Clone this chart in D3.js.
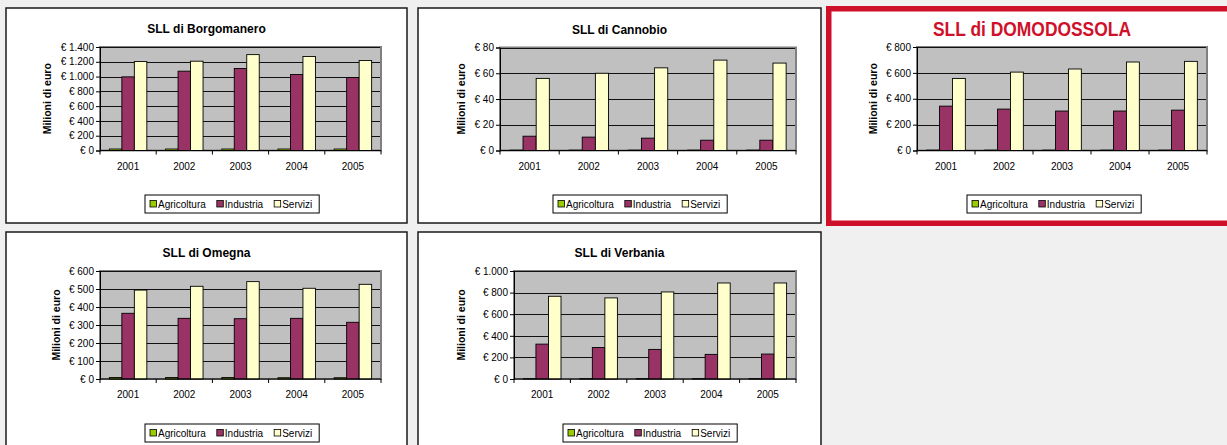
<!DOCTYPE html>
<html>
<head>
<meta charset="utf-8">
<script src="https://d3js.org/d3.v7.min.js"></script>
<style>
  body { margin: 0; background: #eff0ef; }
  svg { display: block; font-family: Arial, "Liberation Sans", sans-serif; }
</style>
</head>
<body>
<div id="chart"></div>
<script>
// dati (milioni di euro)
var years = ["2001", "2002", "2003", "2004", "2005"];
var series = ["Agricoltura", "Industria", "Servizi"];
var colors = ["#99cc00", "#993366", "#ffffcc"];

// [Agricoltura, Industria, Servizi]
var borgomanero = [[20, 20, 20, 20, 20], [996, 1073, 1109, 1028, 988], [1203, 1208, 1297, 1271, 1217]];
var cannobio = [[0.3, 0.3, 0.3, 0.3, 0.3], [11.1, 10.4, 9.6, 8.0, 8.0], [56, 60, 64.2, 70.2, 67.9]];
var domodossola = [[3, 3, 3, 3, 3], [343, 320, 305, 305, 312], [557, 606, 630, 684, 689]];
var omegna = [[8, 8, 8, 7, 7], [365, 337, 335, 337, 315], [494, 515, 541, 504, 526]];
var verbania = [[3, 3, 3, 3, 3], [323, 292, 274, 228, 231], [766, 751, 806, 889, 889]];

// tick dell'asse y
var ticksBorgomanero = [0, 200, 400, 600, 800, 1000, 1200, 1400];
var ticksCannobio = [0, 20, 40, 60, 80];
var ticksDomodossola = [0, 200, 400, 600, 800];
var ticksOmegna = [0, 100, 200, 300, 400, 500, 600];
var ticksVerbania = [0, 200, 400, 600, 800, 1000];

var W = 1227, H = 445;
var svg = d3.select("#chart").append("svg").attr("width", W).attr("height", H);
svg.append("rect").attr("width", W).attr("height", H).attr("fill", "#eff0ef");

var it = d3.formatLocale({decimal: ",", thousands: ".", grouping: [3], currency: ["€ ", ""]});
var euro = it.format("$,.0f");

var panels = [
  {title: "SLL di Borgomanero", data: borgomanero, ticks: ticksBorgomanero,
   box: [6, 8, 401, 215], plot: [100, 47, 381, 150.5], legend: [145, 195]},
  {title: "SLL di Cannobio", data: cannobio, ticks: ticksCannobio,
   box: [418, 8, 403, 215], plot: [500, 47.5, 796, 150.5], legend: [553, 195]},
  {title: "SLL di DOMODOSSOLA", data: domodossola, ticks: ticksDomodossola, highlight: true,
   box: [828.75, 8.75, 420, 214.5], plot: [917, 47, 1207, 150.5], legend: [967, 195]},
  {title: "SLL di Omegna", data: omegna, ticks: ticksOmegna,
   box: [6, 232, 401, 240], plot: [100, 271, 381, 379], legend: [145, 424]},
  {title: "SLL di Verbania", data: verbania, ticks: ticksVerbania,
   box: [418, 232, 403, 240], plot: [514, 271, 796, 379], legend: [563, 424]}
];

panels.forEach(function(p) {
  var g = svg.append("g");

  // cornice del pannello
  g.append("rect")
    .attr("x", p.box[0]).attr("y", p.box[1])
    .attr("width", p.box[2]).attr("height", p.box[3])
    .attr("fill", "#fff")
    .attr("stroke", p.highlight ? "#d0102a" : "#1a1a1a")
    .attr("stroke-width", p.highlight ? 5.5 : 1.5);

  var x0 = p.plot[0], y0 = p.plot[1], x1 = p.plot[2], y1 = p.plot[3];

  // titolo
  var t = g.append("text")
    .attr("x", p.highlight ? 1032 : (p.box[0] + p.box[2] / 2))
    .attr("y", p.highlight ? 35.5 : y0 - 14)
    .attr("text-anchor", "middle")
    .attr("font-weight", "bold")
    .attr("font-size", p.highlight ? "20px" : "12px")
    .attr("fill", p.highlight ? "#d0102a" : "#000")
    .text(p.title);
  if (p.highlight) t.attr("textLength", 198).attr("lengthAdjust", "spacingAndGlyphs");

  var x = d3.scaleBand().domain(years).range([x0, x1]).paddingInner(1 / 3).paddingOuter(1 / 6);
  var xs = d3.scaleBand().domain(series).range([0, x.bandwidth()]);
  var y = d3.scaleLinear().domain([0, d3.max(p.ticks)]).range([y1, y0]);

  // area del grafico
  g.append("rect")
    .attr("x", x0).attr("y", y0).attr("width", x1 - x0).attr("height", y1 - y0)
    .attr("fill", "#c0c0c0").attr("stroke", "#808080").attr("stroke-width", 2);

  // griglia
  g.append("g").selectAll("line").data(p.ticks.slice(1)).join("line")
    .attr("x1", x0).attr("x2", x1 - 1)
    .attr("y1", function(d) { return Math.round(y(d)) + 0.5; })
    .attr("y2", function(d) { return Math.round(y(d)) + 0.5; })
    .attr("stroke", "#111").attr("stroke-width", 1);

  // barre
  var groups = g.append("g").selectAll("g").data(years).join("g")
    .attr("transform", function(d) { return "translate(" + x(d) + ",0)"; });
  groups.selectAll("rect").data(function(d, i) {
      return series.map(function(s, j) { return {s: s, j: j, v: p.data[j][i]}; });
    }).join("rect")
    .attr("x", function(d) { return xs(d.s); })
    .attr("width", xs.bandwidth())
    .attr("y", function(d) { return y(d.v); })
    .attr("height", function(d) { return y(0) - y(d.v); })
    .attr("fill", function(d) { return colors[d.j]; })
    .attr("stroke", "#000").attr("stroke-width", 0.9);

  // asse y
  var ya = g.append("g").attr("transform", "translate(" + x0 + ",0)")
    .call(d3.axisLeft(y).tickValues(p.ticks).tickFormat(euro).tickSizeOuter(0).tickSize(4).tickPadding(2));
  ya.select(".domain").attr("stroke", "#000");
  ya.selectAll(".tick line").attr("stroke", "#000");
  ya.selectAll("text").attr("font-size", "10px").attr("fill", "#000").attr("font-family", "Arial, 'Liberation Sans', sans-serif");

  // asse x
  var xa = g.append("g").attr("transform", "translate(0," + y1 + ")");
  xa.append("line").attr("x1", x0).attr("x2", x1).attr("stroke", "#000");
  var step = x.step();
  xa.selectAll(".tk").data(d3.range(years.length + 1)).join("line")
    .attr("x1", function(i) { return x0 + i * step; })
    .attr("x2", function(i) { return x0 + i * step; })
    .attr("y1", 0).attr("y2", 4).attr("stroke", "#000");
  xa.selectAll("text").data(years).join("text")
    .attr("x", function(d) { return x(d) + x.bandwidth() / 2; })
    .attr("y", 19)
    .attr("text-anchor", "middle").attr("font-size", "10px")
    .text(function(d) { return d; });

  // etichetta asse y
  var maxW = 0;
  ya.selectAll("text").each(function() { maxW = Math.max(maxW, this.getComputedTextLength()); });
  var lx = x0 - 6 - maxW - 13;
  g.append("text")
    .attr("transform", "translate(" + lx + "," + ((y0 + y1) / 2) + ") rotate(-90)")
    .attr("text-anchor", "middle").attr("dy", "0.35em")
    .attr("font-size", "10.5px").attr("font-weight", "bold")
    .text("Milioni di euro");

  // legenda
  var lg = g.append("g").attr("transform", "translate(" + p.legend[0] + "," + p.legend[1] + ")");
  var box = lg.append("rect").attr("height", 18).attr("fill", "#fff").attr("stroke", "#000").attr("stroke-width", 1);
  var cx = 5;
  series.forEach(function(s, j) {
    lg.append("rect").attr("x", cx).attr("y", 5.5).attr("width", 6.5).attr("height", 6.5)
      .attr("fill", colors[j]).attr("stroke", "#000").attr("stroke-width", 0.8);
    var tx = lg.append("text").attr("x", cx + 8).attr("y", 13).attr("font-size", "10px").text(s);
    cx += 8 + tx.node().getComputedTextLength() + (j < series.length - 1 ? 11 : 7);
  });
  box.attr("width", cx);
});
</script>
</body>
</html>
